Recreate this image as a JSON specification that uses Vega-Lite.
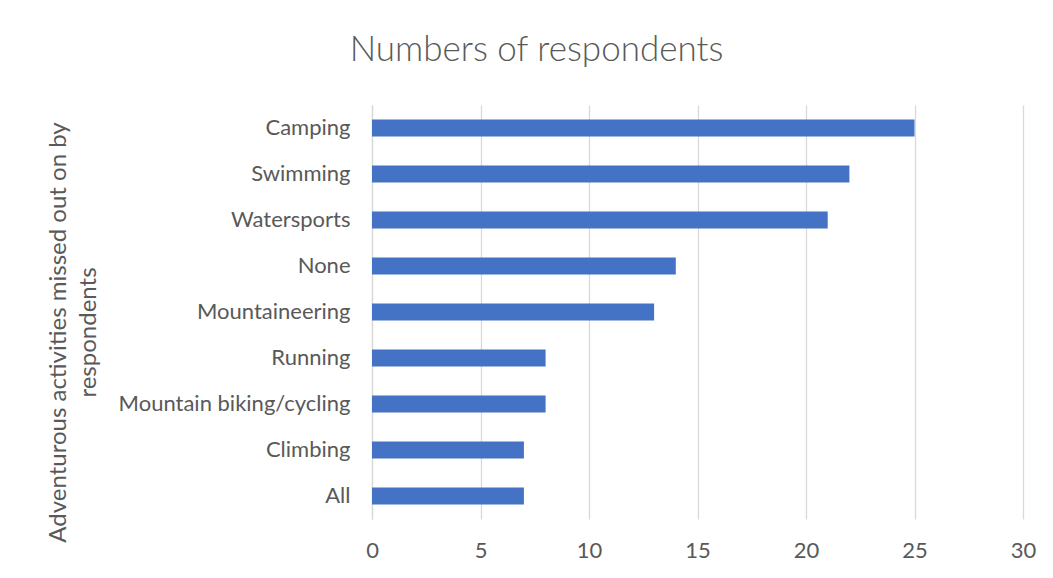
{
  "$schema": "https://vega.github.io/schema/vega-lite/v6.json",
  "autosize": {"type": "none"},
  "width": 651,
  "height": 414,
  "padding": {"left": 372, "top": 105, "right": 30, "bottom": 59},
  "background": "white",
  "title": {
    "text": "Numbers of respondents",
    "font": "Lato",
    "fontWeight": 300,
    "fontSize": 35,
    "color": "#595959",
    "anchor": "middle",
    "dx": -161,
    "offset": 20,
    "baseline": "middle"
  },
  "data": {
    "values": [
      {"activity": "Camping", "count": 25},
      {"activity": "Swimming", "count": 22},
      {"activity": "Watersports", "count": 21},
      {"activity": "None", "count": 14},
      {"activity": "Mountaineering", "count": 13},
      {"activity": "Running ", "count": 8},
      {"activity": "Mountain biking/cycling", "count": 8},
      {"activity": "Climbing", "count": 7},
      {"activity": "All", "count": 7}
    ]
  },
  "mark": {"type": "bar", "color": "#4472C4"},
  "encoding": {
    "y": {
      "field": "activity",
      "type": "nominal",
      "sort": null,
      "scale": {"paddingInner": 0.63, "paddingOuter": 0.315},
      "axis": {
        "title": ["Adventurous activities missed out on by", "respondents"],
        "titleFont": "Lato",
        "titleFontWeight": "normal",
        "titleFontSize": 24,
        "titleColor": "#595959",
        "titleAngle": -90,
        "titleLineHeight": 30,
        "titleAlign": "center",
        "titleBaseline": "middle",
        "titleX": -314,
        "titleY": 227,
        "labelFont": "Lato",
        "labelFontSize": 22,
        "labelColor": "#595959",
        "labelPadding": 22,
        "labelLimit": 0,
        "ticks": false,
        "domainColor": "#d9d9d9",
        "domainWidth": 1.3,
        "grid": false
      }
    },
    "x": {
      "field": "count",
      "type": "quantitative",
      "scale": {"domain": [0, 30], "nice": false},
      "axis": {
        "title": null,
        "values": [0, 5, 10, 15, 20, 25, 30],
        "labelFont": "Lato",
        "labelFontSize": 22,
        "labelColor": "#595959",
        "labelPadding": 21,
        "labelFlush": false,
        "ticks": false,
        "domain": false,
        "grid": true,
        "gridColor": "#d9d9d9",
        "gridWidth": 1.3
      }
    }
  },
  "config": {"view": {"stroke": null}}
}
